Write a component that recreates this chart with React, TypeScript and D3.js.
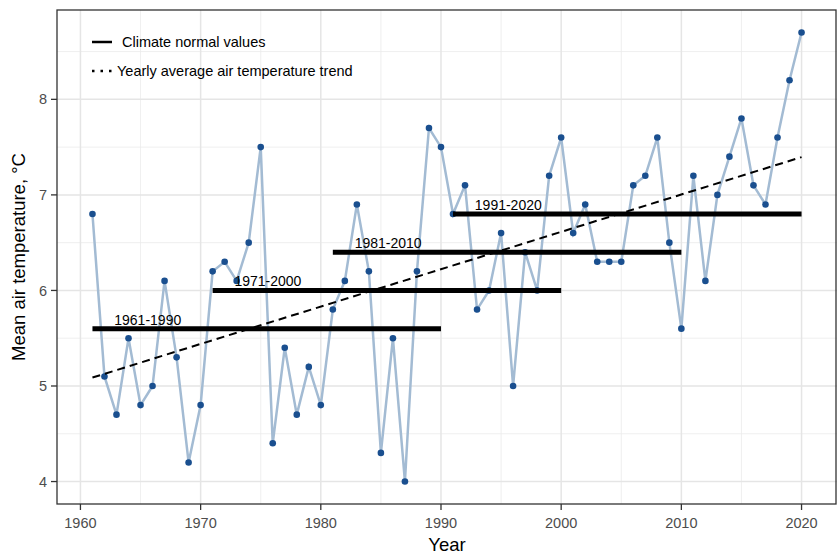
import React from 'react';
import * as d3 from 'd3';

const years = d3.range(1961, 2021);
const temps = [
  6.8, 5.1, 4.7, 5.5, 4.8, 5.0, 6.1, 5.3, 4.2, 4.8,
  6.2, 6.3, 6.1, 6.5, 7.5, 4.4, 5.4, 4.7, 5.2, 4.8,
  5.8, 6.1, 6.9, 6.2, 4.3, 5.5, 4.0, 6.2, 7.7, 7.5,
  6.8, 7.1, 5.8, 6.0, 6.6, 5.0, 6.4, 6.0, 7.2, 7.6,
  6.6, 6.9, 6.3, 6.3, 6.3, 7.1, 7.2, 7.6, 6.5, 5.6,
  7.2, 6.1, 7.0, 7.4, 7.8, 7.1, 6.9, 7.6, 8.2, 8.7,
];
const normalLabels = ['1961-1990', '1971-2000', '1981-2010', '1991-2020'];
const normalStart = [1961, 1971, 1981, 1991];
const normalEnd = [1990, 2000, 2010, 2020];
const normalValues = [5.6, 6.0, 6.4, 6.8];
const xTicks = [1960, 1970, 1980, 1990, 2000, 2010, 2020];
const yTicks = [4, 5, 6, 7, 8];

const W = 838;
const H = 554;
const m = { left: 57, right: 1, top: 10, bottom: 50 };

// least squares trend
const mx = d3.mean(years)!;
const my = d3.mean(temps)!;
const slope =
  d3.sum(years, (x, i) => (x - mx) * (temps[i] - my)) /
  d3.sum(years, (x) => (x - mx) ** 2);
const trend = (x: number) => my + slope * (x - mx);

const App = () => {
  const x = d3.scaleLinear().domain([1958.05, 2022.95]).range([m.left, W - m.right]);
  const y = d3.scaleLinear().domain([3.765, 8.935]).range([H - m.bottom, m.top]);
  const pts = years.map((yr, i) => [yr, temps[i]] as [number, number]);
  const line = d3.line<[number, number]>().x((d) => x(d[0])).y((d) => y(d[1]));
  const minorX = xTicks.slice(0, -1).map((t) => t + 5);
  const minorY = [3.5, 4.5, 5.5, 6.5, 7.5, 8.5].filter((v) => v > 3.765 && v < 8.935);
  const font = 'Liberation Sans, Arial, sans-serif';

  return (
    <svg width={W} height={H} style={{ position: 'absolute', left: 0, top: 0, fontFamily: font }}>
      <rect x={0} y={0} width={W} height={H} fill="white" />
      <g>
        {minorX.map((t) => (
          <line key={'mx' + t} x1={x(t)} x2={x(t)} y1={m.top} y2={H - m.bottom} stroke="#ebebeb" strokeWidth={0.8} />
        ))}
        {minorY.map((t) => (
          <line key={'my' + t} x1={m.left} x2={W - m.right} y1={y(t)} y2={y(t)} stroke="#ebebeb" strokeWidth={0.8} />
        ))}
        {xTicks.map((t) => (
          <line key={'gx' + t} x1={x(t)} x2={x(t)} y1={m.top} y2={H - m.bottom} stroke="#e5e5e5" strokeWidth={1.5} />
        ))}
        {yTicks.map((t) => (
          <line key={'gy' + t} x1={m.left} x2={W - m.right} y1={y(t)} y2={y(t)} stroke="#e5e5e5" strokeWidth={1.5} />
        ))}
      </g>

      <path d={line(pts)!} fill="none" stroke="#a3bbd3" strokeWidth={2.5} />
      {pts.map((d) => (
        <circle key={d[0]} cx={x(d[0])} cy={y(d[1])} r={3.3} fill="#1a4f8f" />
      ))}

      <line
        x1={x(1961)} x2={x(2020)} y1={y(trend(1961))} y2={y(trend(2020))}
        stroke="black" strokeWidth={2} strokeDasharray="8,5"
      />

      {normalLabels.map((lab, i) => (
        <g key={lab}>
          <line
            x1={x(normalStart[i])} x2={x(normalEnd[i])}
            y1={y(normalValues[i])} y2={y(normalValues[i])}
            stroke="black" strokeWidth={5}
          />
          <text x={x(normalStart[i] + 4.6)} y={y(normalValues[i]) - 4} textAnchor="middle" fontSize={14} fill="black">
            {lab}
          </text>
        </g>
      ))}

      {/* legend */}
      <line x1={92} x2={112} y1={42} y2={42} stroke="black" strokeWidth={2.5} />
      <text x={122} y={42} dy="0.35em" fontSize={14.5} fill="black">Climate normal values</text>
      <line x1={92} x2={115} y1={71} y2={71} stroke="black" strokeWidth={2.5} strokeDasharray="2.5,6" />
      <text x={117} y={71} dy="0.35em" fontSize={14.5} fill="black">Yearly average air temperature trend</text>

      <rect x={m.left} y={m.top} width={W - m.left - m.right - 1} height={H - m.top - m.bottom} fill="none" stroke="#333" strokeWidth={1.3} />

      {xTicks.map((t) => (
        <g key={'tx' + t}>
          <line x1={x(t)} x2={x(t)} y1={H - m.bottom} y2={H - m.bottom + 6} stroke="#333" strokeWidth={1.3} />
          <text x={x(t)} y={H - m.bottom + 24} textAnchor="middle" fontSize={14.5} fill="#4d4d4d">{t}</text>
        </g>
      ))}
      {yTicks.map((t) => (
        <g key={'ty' + t}>
          <line x1={m.left - 6} x2={m.left} y1={y(t)} y2={y(t)} stroke="#333" strokeWidth={1.3} />
          <text x={m.left - 10} y={y(t)} dy="0.35em" textAnchor="end" fontSize={14.5} fill="#4d4d4d">{t}</text>
        </g>
      ))}

      <text x={(m.left + W - m.right) / 2} y={H - 3} textAnchor="middle" fontSize={18.5} fill="black">Year</text>
      <text
        transform={`translate(25,${(m.top + H - m.bottom) / 2}) rotate(-90)`}
        textAnchor="middle" fontSize={18.5} fill="black"
      >
        Mean air temperature, °C
      </text>
    </svg>
  );
};

export default App;
